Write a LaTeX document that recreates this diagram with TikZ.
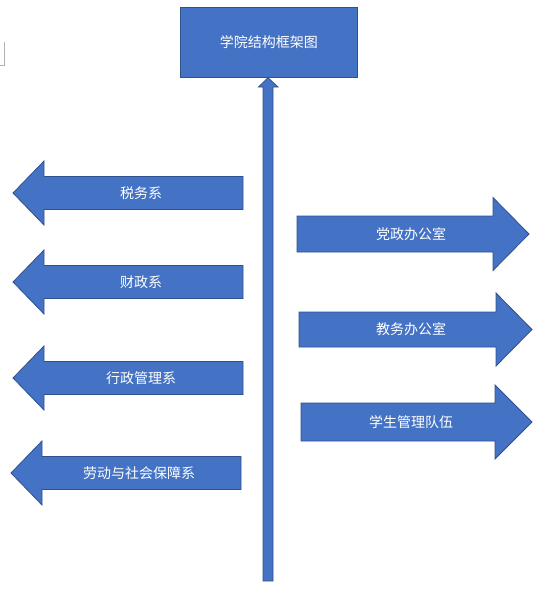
\documentclass[tikz,border=0pt]{standalone}
\usepackage{fontspec}
\newfontfamily\cjk{Noto Sans CJK SC}
\usepackage{xcolor}
\usepackage{tikz}
\definecolor{officeblue}{HTML}{4472C4}
\definecolor{officeedge}{HTML}{2F528F}

\begin{document}
\begin{tikzpicture}[x=1pt,y=-1pt,
  block/.style={fill=officeblue,draw=officeedge,line width=0.8pt},
  deptext/.style={text=white,font=\cjk\fontsize{14}{16}\selectfont}]
\useasboundingbox (0,0) rectangle (537,613);
% ---------- top box and spine ----------
\node[block,minimum width=177pt,minimum height=70pt,inner sep=0pt,deptext] (college) at (268.8,42.3) {学院结构框架图};
\coordinate (spine) at (268,581);
\draw[block] (spine) ++(-5,0) -- (263,87) -- (258.5,87) -- (college.south -| spine)
  -- (278,87) -- (273,87) -- (273,581) -- cycle;
% stray mark at the left edge
\draw[gray!60,line width=0.6pt] (4,42) -- (4,65) -- (0,65);
% ---------- departments (left) ----------
\foreach \x/\y/\t [count=\i] in {0/193/税务系,0/282/财政系,0/378/行政管理系,-2/473/劳动与社会保障系} {
  \draw[block] (13+\x,\y) -- (44+\x,\y-32) -- (44+\x,\y-16.5) -- (243+\x,\y-16.5)
    -- (243+\x,\y+16.5) -- (44+\x,\y+16.5) -- (44+\x,\y+32) -- cycle;
  \node[deptext] (dep\i) at (141+\x,\y) {\t};
}
% ---------- offices (right) ----------
\foreach \l/\b/\p/\y/\s/\h/\t [count=\i] in {297/493/529/234/18/36.5/党政办公室,
    299/496/532/329.5/17.5/36.5/教务办公室,301/495/532/422/19/37/学生管理队伍} {
  \draw[block] (\p,\y) -- (\b,\y-\h) -- (\b,\y-\s) -- (\l,\y-\s)
    -- (\l,\y+\s) -- (\b,\y+\s) -- (\b,\y+\h) -- cycle;
  \node[deptext] (off\i) at (411,\y) {\t};
}
\end{tikzpicture}
\end{document}
